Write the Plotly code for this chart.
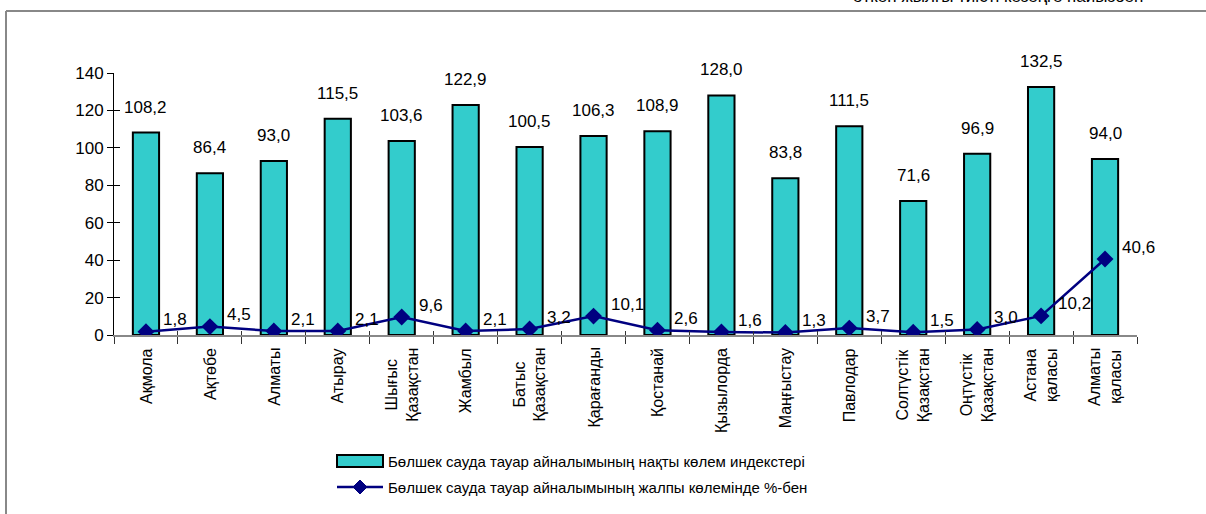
import plotly.graph_objects as go

regions = ["Ақмола", "Ақтөбе", "Алматы", "Атырау", "Шығыс Қазақстан", "Жамбыл",
           "Батыс Қазақстан", "Қарағанды", "Қостанай", "Қызылорда", "Маңғыстау",
           "Павлодар", "Солтүстік Қазақстан", "Оңтүстік Қазақстан", "Астана қаласы",
           "Алматы қаласы"]
index_values = [108.2, 86.4, 93.0, 115.5, 103.6, 122.9, 100.5, 106.3, 108.9, 128.0,
                83.8, 111.5, 71.6, 96.9, 132.5, 94.0]
share_values = [1.8, 4.5, 2.1, 2.1, 9.6, 2.1, 3.2, 10.1, 2.6, 1.6, 1.3, 3.7, 1.5,
                3.0, 10.2, 40.6]
y_ticks = [0, 20, 40, 60, 80, 100, 120, 140]
bar_name = "Бөлшек сауда тауар айналымының нақты көлем индекстері"
line_name = "Бөлшек сауда тауар айналымының жалпы көлемінде %-бен"
top_text = "өткен жылғы тиісті кезеңге пайызбен"

FONT = "Arial, Liberation Sans, sans-serif"
W, H = 1206, 514
L, R, T, B = 114, 69, 73, 179
PW, PH = W - L - R, H - T - B


def px2x(px):
    return (px - L) / PW


def px2y(py):
    return (H - B - py) / PH


def fmt(v):
    return f"{v:.1f}".replace(".", ",")


fig = go.Figure()
fig.add_trace(go.Bar(
    x=regions, y=index_values, name=bar_name, width=0.41,
    marker=dict(color="#33CCCC", line=dict(color="black", width=2)),
    showlegend=False,
))
fig.add_trace(go.Scatter(
    x=regions, y=share_values, name=line_name, mode="lines+markers",
    line=dict(color="#000080", width=2.5),
    marker=dict(symbol="diamond", size=13, color="#000080"),
    showlegend=False,
))
# overlay axes for crossing ticks
fig.add_trace(go.Scatter(x=regions, y=[None] * len(regions), xaxis="x2", yaxis="y2",
                         showlegend=False, hoverinfo="skip"))

ann = []
for r, v in zip(regions, index_values):
    ann.append(dict(x=r, y=v, xref="x", yref="y", text=fmt(v), showarrow=False,
                    yanchor="bottom", yshift=14, font=dict(size=17, color="black", family=FONT)))
for r, v in zip(regions, share_values):
    ann.append(dict(x=r, y=v, xref="x", yref="y", text=fmt(v), showarrow=False,
                    xanchor="left", xshift=15, yanchor="middle", yshift=12,
                    font=dict(size=17, color="black", family=FONT)))
for r in regions:
    ann.append(dict(x=r, y=0, xref="x", yref="y", text=r.replace(" ", "<br>"),
                    showarrow=False, textangle=-90, yanchor="top", yshift=-11,
                    align="center", font=dict(size=16, color="black", family=FONT)))

# legend (custom)
ann.append(dict(x=px2x(386), y=px2y(461), xref="paper", yref="paper", text=bar_name,
                showarrow=False, xanchor="left", yanchor="middle",
                font=dict(size=15, color="black", family=FONT)))
ann.append(dict(x=px2x(386), y=px2y(487), xref="paper", yref="paper", text=line_name,
                showarrow=False, xanchor="left", yanchor="middle",
                font=dict(size=15, color="black", family=FONT)))
ann.append(dict(x=px2x(851), y=px2y(-4), xref="paper", yref="paper", text=top_text,
                showarrow=False, xanchor="left", yanchor="middle",
                font=dict(size=17, color="black", family=FONT)))

shapes = [
    dict(type="rect", xref="paper", yref="paper", x0=px2x(337), x1=px2x(383),
         y0=px2y(455), y1=px2y(467), fillcolor="#33CCCC", line=dict(color="black", width=2)),
    dict(type="line", xref="paper", yref="paper", x0=px2x(337), x1=px2x(383),
         y0=px2y(487), y1=px2y(487), line=dict(color="#000080", width=2.5)),
    dict(type="path", xref="paper", yref="paper",
         path=f"M {px2x(360)},{px2y(480)} L {px2x(367)},{px2y(487)} L {px2x(360)},{px2y(494)} "
              f"L {px2x(353)},{px2y(487)} Z",
         fillcolor="#000080", line=dict(color="#000080", width=1)),
    # outer frame (left and top edges)
    dict(type="line", xref="paper", yref="paper", x0=px2x(6), x1=px2x(6),
         y0=px2y(11), y1=px2y(530), line=dict(color="#888888", width=2)),
    dict(type="line", xref="paper", yref="paper", x0=px2x(6), x1=px2x(1300),
         y0=px2y(11), y1=px2y(11), line=dict(color="#888888", width=2)),
]

fig.update_layout(
    width=W, height=H, margin=dict(l=L, r=R, t=T, b=B),
    paper_bgcolor="white", plot_bgcolor="white",
    font=dict(family=FONT, color="black"),
    bargap=0.59, showlegend=False,
    annotations=ann, shapes=shapes,
    xaxis=dict(type="category", range=[-0.5, len(regions) - 0.5], showticklabels=False,
               ticks="outside", tickson="boundaries", ticklen=7, tickcolor="#333333",
               showline=True, linecolor="#888888", linewidth=2, showgrid=False,
               zeroline=False, fixedrange=True),
    yaxis=dict(range=[0, 140], tickvals=y_ticks, ticks="outside", ticklen=6,
               tickcolor="black", showline=True, linecolor="black", linewidth=1,
               showgrid=False, zeroline=False, tickfont=dict(size=17, family=FONT)),
    xaxis2=dict(type="category", overlaying="x", range=[-0.5, len(regions) - 0.5],
                showticklabels=False, ticks="inside", tickson="boundaries", ticklen=4,
                tickcolor="#333333", showline=False, showgrid=False, zeroline=False,
                anchor="y2", side="bottom", categoryarray=regions, categoryorder="array"),
    yaxis2=dict(overlaying="y", range=[0, 140], tickvals=y_ticks, ticks="inside",
                ticklen=6, tickcolor="black", showticklabels=False, showline=False,
                showgrid=False, zeroline=False, anchor="x2", side="left"),
)

fig.write_html("out.html", config={"displayModeBar": False},
               post_script="document.documentElement.style.overflow='hidden';"
                           "document.body.style.margin='0';document.body.style.overflow='hidden';")
